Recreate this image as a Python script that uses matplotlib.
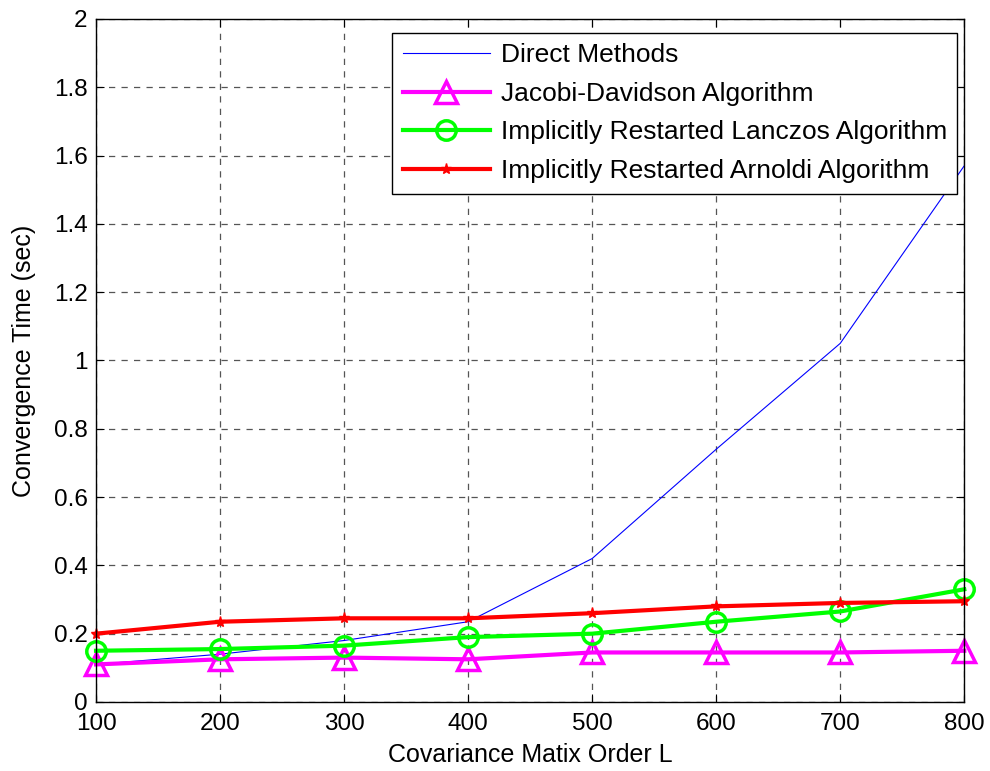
import matplotlib
matplotlib.use('Agg')
import matplotlib.pyplot as plt

plt.rcParams['font.family'] = ['Liberation Sans', 'DejaVu Sans']

orders = [100, 200, 300, 400, 500, 600, 700, 800]
direct = [0.11, 0.14, 0.18, 0.235, 0.42, 0.74, 1.05, 1.57]
jacobi = [0.11, 0.125, 0.13, 0.125, 0.145, 0.145, 0.145, 0.15]
lanczos = [0.15, 0.155, 0.165, 0.19, 0.2, 0.235, 0.265, 0.33]
arnoldi = [0.2, 0.235, 0.245, 0.245, 0.26, 0.28, 0.29, 0.295]

fig = plt.figure(figsize=(9.9, 7.71), dpi=100)
ax = fig.add_axes([0.097, 0.0895, 0.877, 0.886])

ax.plot(orders, direct, color='#0000ff', lw=0.8, label='Direct Methods')
ax.plot(orders, jacobi, color='#ff00ff', lw=3, marker='^', ms=16, mfc='none',
        mew=2.5, label='Jacobi-Davidson Algorithm', clip_on=False)
ax.plot(orders, lanczos, color='#00ff00', lw=3, marker='o', ms=14, mfc='none',
        mew=2.5, label='Implicitly Restarted Lanczos Algorithm', clip_on=False)
ax.plot(orders, arnoldi, color='#ff0000', lw=3, marker='*', ms=8,
        label='Implicitly Restarted Arnoldi Algorithm', clip_on=False)

ax.set_xlim(100, 800)
ax.set_ylim(0, 2)
ax.set_xticks(orders)
ax.set_yticks([0, 0.2, 0.4, 0.6, 0.8, 1, 1.2, 1.4, 1.6, 1.8, 2])
ax.set_yticklabels(['0', '0.2', '0.4', '0.6', '0.8', '1', '1.2', '1.4', '1.6', '1.8', '2'])
ax.tick_params(direction='in', labelsize=17.5, top=True, right=True, length=6)
ax.tick_params(axis='x', pad=8)
ax.tick_params(axis='y', pad=6)
ax.grid(True, color='#555555', linestyle=(0, (5, 5)), lw=0.9)
for s in ax.spines.values():
    s.set_linewidth(1)

ax.set_xlabel('Covariance Matix Order L', fontsize=18, labelpad=6)
ax.set_ylabel('Convergence Time (sec)', fontsize=18, labelpad=13)

leg = ax.legend(loc='upper right', fontsize=19, fancybox=False, framealpha=1,
                edgecolor='black', handlelength=3.3, handletextpad=0.4,
                borderpad=0.4, labelspacing=0.55, borderaxespad=0,
                bbox_to_anchor=(0.992, 0.9795))
leg.get_frame().set_linewidth(1)

fig.savefig('out.png', dpi=100)
